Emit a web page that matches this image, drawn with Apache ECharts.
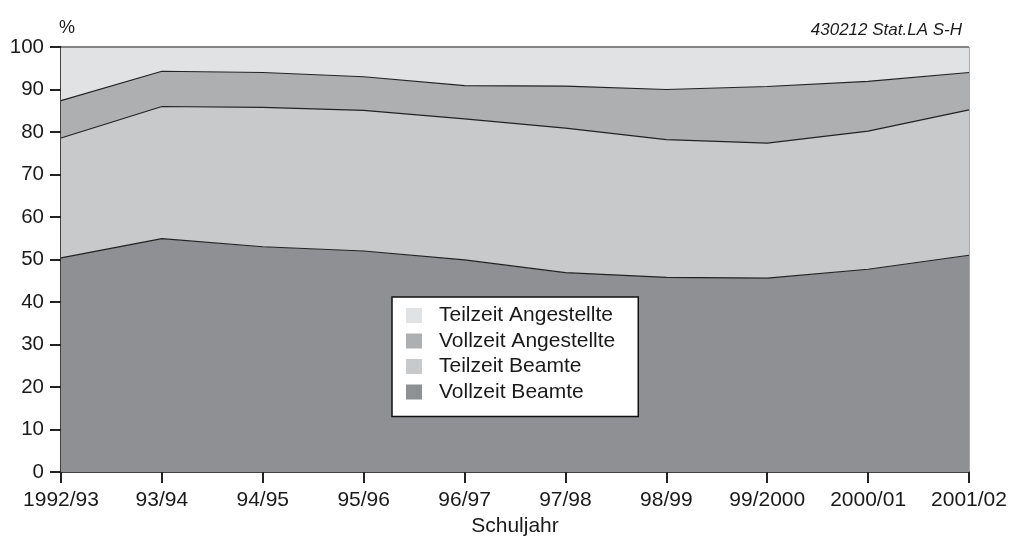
<!DOCTYPE html>
<html>
<head>
<meta charset="utf-8">
<script src="https://cdn.jsdelivr.net/npm/echarts@6/dist/echarts.min.js"></script>
<style>
  html, body { margin: 0; padding: 0; background: #fff; }
  #main { width: 1010px; height: 536px; }
</style>
</head>
<body>
<div id="main"></div>
<script>
// Schuljahre
var categories = ['1992/93', '93/94', '94/95', '95/96', '96/97', '97/98', '98/99', '99/2000', '2000/01', '2001/02'];

// Anteile in %
var vollzeitBeamte = [50.4, 54.9, 53.0, 52.0, 49.9, 46.9, 45.8, 45.6, 47.7, 51.0];
var teilzeitBeamte = [28.2, 31.1, 32.8, 33.1, 33.2, 34.0, 32.4, 31.8, 32.5, 34.2];
var vollzeitAngestellte = [8.8, 8.3, 8.2, 7.9, 7.8, 9.9, 11.8, 13.3, 11.7, 8.8];
var teilzeitAngestellte = [12.6, 5.7, 6.0, 7.0, 9.1, 9.2, 10.0, 9.3, 8.1, 6.0];

var yTicks = [0, 100, 10]; // min, max, interval

var font = '"Liberation Sans", Arial, Helvetica, sans-serif';
var ink = '#1a1a1a';

var myChart = echarts.init(document.getElementById('main'));

function areaSeries(name, data, color) {
    return {
        name: name,
        type: 'line',
        stack: 'gesamt',
        data: data,
        symbol: 'none',
        itemStyle: { color: color },
        lineStyle: { color: '#222', width: 1.2 },
        areaStyle: { color: color, opacity: 1 },
        emphasis: { disabled: true }
    };
}

myChart.setOption({
    animation: false,
    textStyle: { fontFamily: font, color: ink },
    grid: {
        left: 61, right: 41, top: 47, bottom: 64,
        outerBoundsMode: 'none',
        containLabel: false,
        show: true, borderColor: '#555', borderWidth: 1
    },
    title: [{
        text: '%', left: 54, top: 14,
        textStyle: { fontSize: 18, fontWeight: 'normal', color: ink, fontFamily: font }
    }, {
        text: '430212 Stat.LA S-H', right: 43, top: 17,
        textStyle: { fontSize: 17, fontStyle: 'italic', fontWeight: 'normal', color: ink, fontFamily: font }
    }],
    legend: {
        orient: 'vertical',
        left: 392, top: 297,
        backgroundColor: '#fff',
        borderColor: '#111',
        borderWidth: 1.5,
        padding: [8, 23, 14, 14],
        itemWidth: 16, itemHeight: 15, itemGap: 4.5,
        icon: 'rect',
        selectedMode: false,
        data: ['Teilzeit Angestellte', 'Vollzeit Angestellte', 'Teilzeit Beamte', 'Vollzeit Beamte'],
        textStyle: { fontSize: 21, lineHeight: 21, color: ink, fontFamily: font, padding: [0, 0, 0, 12] }
    },
    xAxis: {
        type: 'category',
        data: categories,
        boundaryGap: false,
        name: 'Schuljahr',
        nameLocation: 'middle',
        nameGap: 43,
        nameTextStyle: { fontSize: 21, color: ink, fontFamily: font },
        axisLine: { lineStyle: { color: '#222', width: 1.5 } },
        axisTick: { alignWithLabel: true, length: 11, lineStyle: { color: '#222', width: 2 } },
        axisLabel: { fontSize: 21, margin: 18, color: ink, fontFamily: font }
    },
    yAxis: {
        type: 'value',
        min: yTicks[0], max: yTicks[1], interval: yTicks[2],
        splitLine: { show: false },
        axisLine: { show: true, lineStyle: { color: '#222', width: 1.5 } },
        axisTick: { show: true, length: 11, lineStyle: { color: '#222', width: 2 } },
        axisLabel: { fontSize: 20.5, margin: 17, color: ink, fontFamily: font }
    },
    series: [
        areaSeries('Vollzeit Beamte', vollzeitBeamte, '#8f9093'),
        areaSeries('Teilzeit Beamte', teilzeitBeamte, '#c8c9cb'),
        areaSeries('Vollzeit Angestellte', vollzeitAngestellte, '#aeafb1'),
        areaSeries('Teilzeit Angestellte', teilzeitAngestellte, '#e1e2e4')
    ]
});
</script>
</body>
</html>
